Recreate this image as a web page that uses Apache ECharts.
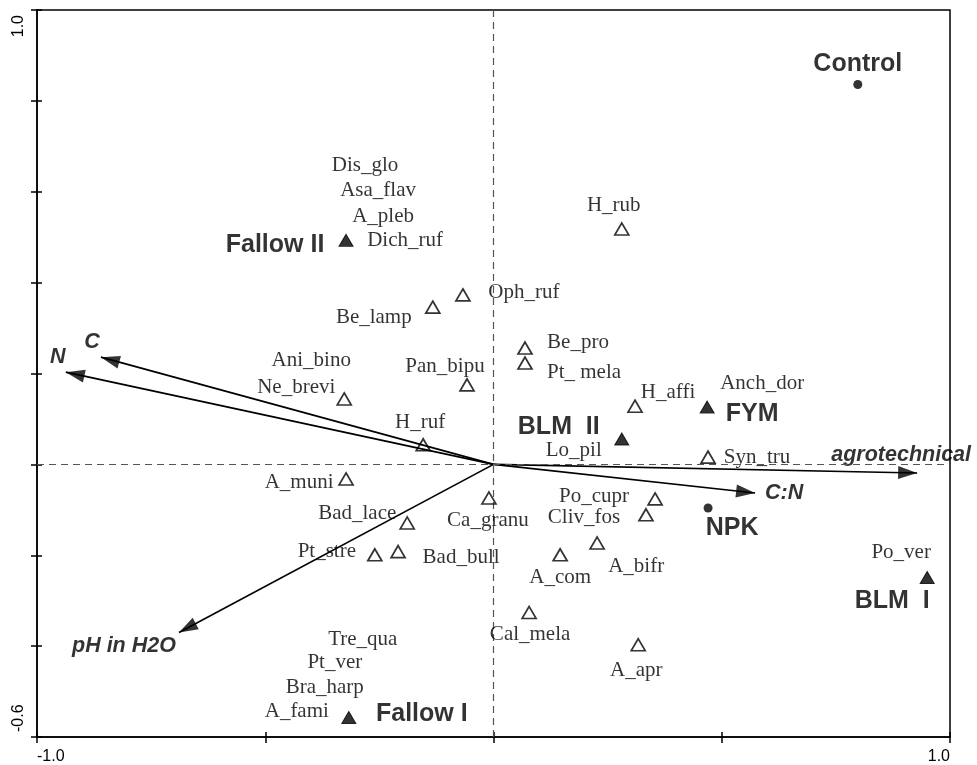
<!DOCTYPE html>
<html><head><meta charset="utf-8">
<script src="https://cdn.jsdelivr.net/npm/echarts@6/dist/echarts.min.js"></script>
<style>html,body{margin:0;padding:0;background:#fff}#c{width:977px;height:765px}</style>
</head><body><div id="c"></div>
<script>
// ---- data (ordination scores) ----
const species = [
  ['H_rub', 0.281, 0.518], ['Oph_ruf', -0.067, 0.373], ['Be_lamp', -0.133, 0.346],
  ['Be_pro', 0.069, 0.256], ['Pt_ mela', 0.069, 0.223], ['Pan_bipu', -0.058, 0.175],
  ['Ne_brevi', -0.327, 0.144], ['H_affi', 0.310, 0.128], ['H_ruf', -0.154, 0.043],
  ['Syn_tru', 0.470, 0.016], ['A_muni', -0.323, -0.032], ['Ca_granu', -0.010, -0.074],
  ['Po_cupr', 0.354, -0.076], ['Cliv_fos', 0.334, -0.111], ['Bad_lace', -0.189, -0.129],
  ['A_bifr', 0.227, -0.173], ['A_com', 0.146, -0.199], ['Pt_stre', -0.260, -0.199],
  ['Bad_bull', -0.209, -0.192], ['Cal_mela', 0.078, -0.326], ['A_apr', 0.317, -0.397]
];
const samplesTriangle = [
  ['Fallow II', -0.323, 0.493], ['BLM  II', 0.281, 0.056], ['FYM', 0.468, 0.126],
  ['BLM  I', 0.950, -0.249], ['Fallow I', -0.317, -0.557]
];
const samplesCircle = [
  ['Control', 0.798, 0.836], ['NPK', 0.470, -0.096]
];
// species whose scores coincide with another point: [species, point it sits on]
const coincident = [
  ['Dis_glo', 'Fallow II'], ['Asa_flav', 'Fallow II'], ['A_pleb', 'Fallow II'], ['Dich_ruf', 'Fallow II'],
  ['Ani_bino', 'Ne_brevi'], ['Anch_dor', 'FYM'], ['Lo_pil', 'BLM  II'], ['Po_ver', 'BLM  I'],
  ['Tre_qua', 'Fallow I'], ['Pt_ver', 'Fallow I'], ['Bra_harp', 'Fallow I'], ['A_fami', 'Fallow I']
];
const envVars = [
  ['C', -0.860, 0.236], ['N', -0.937, 0.203], ['agrotechnical', 0.928, -0.019],
  ['C:N', 0.573, -0.063], ['pH in H2O', -0.689, -0.370]
];
const xTickLabels = ['-1.0', '1.0'];
const yTickLabels = ['-0.6', '1.0'];

// ---- label layout (pixel offsets of label centre from its point) ----
const labelOffsets = {
  'H_rub': [-8, -24], 'Oph_ruf': [61, -2], 'Be_lamp': [-59, 10], 'Be_pro': [53, -6],
  'Pt_ mela': [59, 9], 'Pan_bipu': [-22, -18], 'Ne_brevi': [-48, -11], 'H_affi': [33, -14],
  'H_ruf': [-3, -22], 'Syn_tru': [49, 0], 'A_muni': [-47, 4], 'Ca_granu': [-1, 22],
  'Po_cupr': [-61, -2], 'Cliv_fos': [-62, 3], 'Bad_lace': [-50, -10], 'A_bifr': [39, 24],
  'A_com': [0, 23], 'Pt_stre': [-48, -3], 'Bad_bull': [63, 6], 'Cal_mela': [1, 22], 'A_apr': [-2, 26],
  'Dis_glo': [19, -75], 'Asa_flav': [32, -50], 'A_pleb': [37, -24], 'Dich_ruf': [59, 0],
  'Ani_bino': [-33, -38], 'Anch_dor': [55, -24], 'Lo_pil': [-48, 12], 'Po_ver': [-26, -25],
  'Tre_qua': [14, -78], 'Pt_ver': [-14, -55], 'Bra_harp': [-24, -30], 'A_fami': [-52, -6],
  'Fallow II': [-71, 5], 'BLM  II': [-63, -12], 'FYM': [45, 7], 'BLM  I': [-35, 24],
  'Fallow I': [73, -3], 'Control': [0, -20], 'NPK': [24, 20],
  'C': [-9, -15], 'N': [-8, -15], 'agrotechnical': [-16, -18], 'C:N': [29, 0], 'pH in H2O': [-55, 14]
};

const lookup = {};
species.concat(samplesTriangle, samplesCircle).forEach(d => { lookup[d[0]] = [d[1], d[2]]; });

function pts(list) {
  return list.map(d => ({
    name: d[0], value: [d[1], d[2]],
    label: { offset: labelOffsets[d[0]] || [0, 0] }
  }));
}
const coincidentPts = coincident.map(c => ({
  name: c[0], value: lookup[c[1]].slice(),
  label: { offset: labelOffsets[c[0]] || [0, 0] }
}));

const serif = 'Liberation Serif, Times New Roman, serif';
const sans = 'Liberation Sans, Arial, sans-serif';
const speciesLabel = { show: true, position: 'inside', formatter: '{b}', color: '#000',
  fontFamily: serif, fontSize: 21 };
const sampleLabel = { show: true, position: 'inside', formatter: '{b}', color: '#000',
  fontFamily: sans, fontSize: 25, fontWeight: 'bold' };
const envLabel = { show: true, position: 'inside', formatter: '{b}', color: '#000',
  fontFamily: sans, fontSize: 21.5, fontWeight: 'bold', fontStyle: 'italic' };

function endLabel(labels) {
  return function (v) {
    const s = (Math.round(v * 10) / 10).toFixed(1);
    return labels.indexOf(s) >= 0 ? s : '';
  };
}

const chart = echarts.init(document.getElementById('c'), null, { renderer: 'canvas' });
const baseOption = {
  animation: false,
  backgroundColor: '#fff',
  grid: { left: 37, right: 27, top: 10, bottom: 27, show: true, borderColor: '#000', borderWidth: 1.5, containLabel: false },
  xAxis: [
    { type: 'value', min: -1, max: 1, interval: 0.5, position: 'bottom',
      axisLine: { show: true, onZero: false, lineStyle: { color: '#000', width: 1.5 } },
      axisTick: { show: true, inside: false, length: 6, lineStyle: { color: '#000', width: 1.5 } },
      splitLine: { show: false },
      axisLabel: { show: true, formatter: endLabel(xTickLabels), color: '#000', fontFamily: sans, fontSize: 16, margin: 12,
        alignMinLabel: 'left', alignMaxLabel: 'right', showMinLabel: true, showMaxLabel: true } },
    { type: 'value', min: -1, max: 1, interval: 0.5, position: 'bottom',
      axisLine: { show: false, onZero: false }, splitLine: { show: false }, axisLabel: { show: false },
      axisTick: { show: true, inside: true, length: 5, lineStyle: { color: '#000', width: 1.5 } } }
  ],
  yAxis: [
    { type: 'value', min: -0.6, max: 1.0, interval: 0.2, position: 'left',
      axisLine: { show: true, onZero: false, lineStyle: { color: '#000', width: 1.5 } },
      axisTick: { show: true, inside: false, length: 6, lineStyle: { color: '#000', width: 1.5 } },
      splitLine: { show: false },
      axisLabel: { show: true, rotate: 90, formatter: endLabel(yTickLabels), color: '#000', fontFamily: sans, fontSize: 16, margin: 10,
        padding: [0, 5, 0, 5],
        alignMinLabel: 'left', alignMaxLabel: 'right', showMinLabel: true, showMaxLabel: true } },
    { type: 'value', min: -0.6, max: 1.0, interval: 0.2, position: 'left',
      axisLine: { show: false, onZero: false }, splitLine: { show: false }, axisLabel: { show: false },
      axisTick: { show: true, inside: true, length: 5, lineStyle: { color: '#000', width: 1.5 } } }
  ],
  series: [
    { type: 'lines', coordinateSystem: 'cartesian2d', silent: true, z: 3,
      symbol: ['none', 'none'],
      lineStyle: { color: '#000', width: 1.7, opacity: 1 },
      data: envVars.map(d => ({ name: d[0], coords: [[0, 0], [d[1], d[2]]] })) },
    { type: 'scatter', name: 'envlab', silent: true, z: 4, symbol: 'circle', symbolSize: 1,
      itemStyle: { color: 'rgba(0,0,0,0)' }, label: envLabel, data: pts(envVars) },
    { type: 'scatter', name: 'species', silent: true, z: 5, symbol: 'triangle', symbolSize: [14, 12],
      itemStyle: { color: 'rgba(0,0,0,0)', borderColor: '#000', borderWidth: 1.7 },
      label: speciesLabel, data: pts(species),
      markLine: { silent: true, symbol: 'none', label: { show: false },
        lineStyle: { color: '#555', type: [7, 5], width: 1.2 },
        data: [{ xAxis: 0 }, { yAxis: 0 }] } },
    { type: 'scatter', name: 'coincident', silent: true, z: 5, symbol: 'circle', symbolSize: 1,
      itemStyle: { color: 'rgba(0,0,0,0)' }, label: speciesLabel, data: coincidentPts },
    { type: 'scatter', name: 'samplesTri', silent: true, z: 6, symbol: 'triangle', symbolSize: [14, 12],
      itemStyle: { color: '#000', borderColor: '#000', borderWidth: 1 },
      label: sampleLabel, data: pts(samplesTriangle) },
    { type: 'scatter', name: 'samplesDot', silent: true, z: 6, symbol: 'circle', symbolSize: 9,
      itemStyle: { color: '#000' }, label: sampleLabel, data: pts(samplesCircle) }
  ]
};
chart.setOption(baseOption);

// arrow heads at the tips of the environmental vectors, rotated along each vector in pixel space
const HEAD_LEN = 19;
const origin = chart.convertToPixel({ gridIndex: 0 }, [0, 0]);
const heads = envVars.map(d => {
  const p = chart.convertToPixel({ gridIndex: 0 }, [d[1], d[2]]);
  const dx = p[0] - origin[0], dy = p[1] - origin[1];
  const len = Math.sqrt(dx * dx + dy * dy);
  const phi = Math.atan2(-dy, dx) * 180 / Math.PI;
  return { name: d[0], value: [d[1], d[2]], symbolRotate: phi - 90,
    symbolOffset: [-dx / len * HEAD_LEN / 2, -dy / len * HEAD_LEN / 2] };
});
chart.setOption({
  series: baseOption.series.concat([
    { type: 'scatter', name: 'heads', silent: true, z: 4, symbol: 'triangle', symbolSize: [13, HEAD_LEN],
      itemStyle: { color: '#000' }, label: { show: false }, data: heads }
  ])
});
</script></body></html>
